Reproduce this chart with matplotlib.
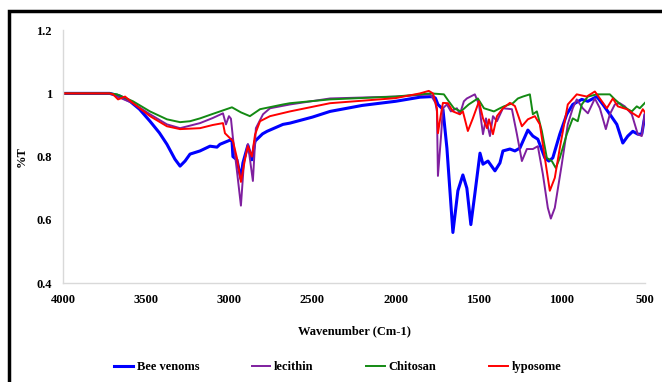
import matplotlib
matplotlib.use('Agg')
import matplotlib.pyplot as plt
from matplotlib.patches import Rectangle

plt.rcParams['font.family'] = ['Liberation Serif', 'DejaVu Serif']
plt.rcParams['font.weight'] = 'bold'

# ==================== 数据 ====================
bee_wn = [4000, 3850, 3720, 3660, 3597, 3540, 3477, 3420, 3375, 3327, 3296, 3266, 3236,
          3176, 3116, 3074, 3056, 2996, 2984, 2978, 2954, 2930, 2918, 2888, 2864, 2845,
          2800, 2773, 2677, 2635, 2500, 2394, 2200, 2000, 1853, 1775, 1760, 1745, 1715,
          1691, 1655, 1625, 1595, 1571, 1547, 1523, 1492, 1474, 1444, 1402, 1372, 1354,
          1312, 1282, 1252, 1204, 1174, 1144, 1102, 1078, 1054, 1012, 970, 934, 880, 843,
          789, 753, 711, 669, 633, 603, 573, 543, 519, 500]
bee_t = [1.0, 1.0, 1.0, 0.992, 0.975, 0.95, 0.912, 0.875, 0.839, 0.792, 0.77, 0.786, 0.808,
         0.818, 0.833, 0.830, 0.839, 0.852, 0.855, 0.80, 0.79, 0.73, 0.78, 0.836, 0.79, 0.849,
         0.872, 0.88, 0.902, 0.906, 0.925, 0.943, 0.962, 0.975, 0.988, 0.99, 0.985, 0.965, 0.95,
         0.827, 0.56, 0.692, 0.742, 0.70, 0.585, 0.682, 0.811, 0.776, 0.786, 0.755, 0.78, 0.818,
         0.824, 0.818, 0.827, 0.884, 0.865, 0.855, 0.796, 0.786, 0.796, 0.871, 0.934, 0.965, 0.981, 0.975,
         0.99, 0.965, 0.934, 0.902, 0.843, 0.865, 0.88, 0.871, 0.871, 0.93]

lec_wn = [4000, 3720, 3675, 3579, 3477, 3375, 3296, 3176, 3100, 3038, 3020, 3002, 2990,
          2978, 2954, 2930, 2912, 2888, 2858, 2840, 2797, 2755, 2635, 2394, 2000, 1790,
          1760, 1751, 1745, 1727, 1715, 1691, 1667, 1631, 1613, 1589, 1571, 1523, 1498,
          1474, 1456, 1432, 1414, 1390, 1354, 1300, 1270, 1240, 1210, 1174, 1144, 1114,
          1084, 1066, 1042, 1000, 964, 934, 910, 874, 843, 801, 771, 735, 711, 681, 651,
          621, 579, 543, 519, 500]
lec_t = [1.0, 1.0, 0.99, 0.969, 0.934, 0.902, 0.89, 0.906, 0.922, 0.937, 0.902, 0.928, 0.92,
         0.859, 0.755, 0.645, 0.78, 0.84, 0.723, 0.89, 0.934, 0.953, 0.965, 0.984, 0.99, 0.997,
         0.97, 0.943, 0.739, 0.86, 0.953, 0.965, 0.943, 0.953, 0.934, 0.975, 0.984, 0.997, 0.965,
         0.871, 0.921, 0.865, 0.928, 0.912, 0.953, 0.95, 0.871, 0.786, 0.824, 0.824, 0.833, 0.745,
         0.638, 0.604, 0.638, 0.776, 0.902, 0.953, 0.981, 0.953, 0.937, 0.984, 0.953, 0.887, 0.934, 0.965, 0.969,
         0.959, 0.934, 0.871, 0.865, 0.94]

chi_wn = [4000, 3720, 3675, 3579, 3477, 3375, 3296, 3236, 3176, 3100, 2984, 2930, 2876,
          2815, 2677, 2635, 2394, 2000, 1787, 1709, 1680, 1649, 1607, 1560, 1505, 1468,
          1408, 1372, 1348, 1294, 1264, 1234, 1192, 1174, 1150, 1120, 1090, 1060, 1036,
          1012, 970, 934, 904, 880, 843, 789, 711, 681, 633, 579, 549, 531, 500]
chi_t = [1.0, 1.0, 0.997, 0.975, 0.943, 0.918, 0.909, 0.912, 0.921, 0.935, 0.956, 0.94, 0.928,
         0.95, 0.965, 0.969, 0.981, 0.99, 1.0, 0.997, 0.975, 0.953, 0.943, 0.965, 0.984, 0.953,
         0.943, 0.953, 0.959, 0.969, 0.984, 0.99, 0.997, 0.934, 0.943, 0.881, 0.796, 0.786, 0.764,
         0.796, 0.871, 0.921, 0.912, 0.965, 0.99, 0.997, 0.997, 0.981, 0.959, 0.943, 0.959, 0.953, 0.97]

lyp_wn = [4000, 3720, 3699, 3669, 3627, 3579, 3477, 3375, 3296, 3176, 3100, 3038, 3026,
          2978, 2954, 2930, 2906, 2888, 2864, 2845, 2815, 2755, 2635, 2394, 2000, 1853,
          1800, 1775, 1751, 1745, 1727, 1715, 1685, 1655, 1613, 1595, 1565, 1535, 1498,
          1474, 1450, 1438, 1414, 1390, 1354, 1312, 1282, 1240, 1204, 1162, 1132, 1102,
          1072, 1042, 1012, 964, 910, 850, 801, 759, 729, 693, 663, 609, 573, 537, 513, 500]
lyp_t = [1.0, 1.0, 0.997, 0.981, 0.99, 0.969, 0.928, 0.896, 0.887, 0.89, 0.90, 0.906, 0.874,
         0.849, 0.796, 0.72, 0.79, 0.833, 0.80, 0.87, 0.912, 0.928, 0.943, 0.969, 0.985, 1.0,
         1.008, 1.0, 0.953, 0.874, 0.934, 0.97, 0.969, 0.943, 0.934, 0.943, 0.881, 0.921, 0.975,
         0.921, 0.89, 0.918, 0.871, 0.928, 0.953, 0.97, 0.96, 0.896, 0.918, 0.928, 0.902, 0.796,
         0.692, 0.733, 0.827, 0.965, 0.997, 0.99, 1.006, 0.975, 0.953, 0.984, 0.959, 0.95, 0.937, 0.925, 0.95, 0.94]

x_ticks = [4000, 3500, 3000, 2500, 2000, 1500, 1000, 500]
y_ticks = [0.4, 0.6, 0.8, 1.0, 1.2]
y_tick_labels = ['0.4', '0.6', '0.8', '1', '1.2']

# ==================== 绘图 ====================
fig = plt.figure(figsize=(6.62, 3.82), dpi=100)
ax = fig.add_axes([0.0952, 0.259, 0.879, 0.662])

ax.plot(bee_wn, bee_t, color='#0000FF', lw=2.2, label='Bee venoms')
ax.plot(lec_wn, lec_t, color='#7F1F9F', lw=1.4, label='lecithin')
ax.plot(chi_wn, chi_t, color='#138A13', lw=1.4, label='Chitosan')
ax.plot(lyp_wn, lyp_t, color='#FF0000', lw=1.4, label='lyposome')

ax.set_xlim(4000, 500)
ax.set_ylim(0.4, 1.2)
ax.set_xticks(x_ticks)
ax.set_xticklabels([str(v) for v in x_ticks])
ax.set_yticks(y_ticks)
ax.set_yticklabels(y_tick_labels)
ax.tick_params(length=0, labelsize=9, pad=8)
for lab in ax.get_xticklabels() + ax.get_yticklabels():
    lab.set_fontweight('bold')

for s in ['top', 'right']:
    ax.spines[s].set_visible(False)
for s in ['left', 'bottom']:
    ax.spines[s].set_color('#D9D9D9')
    ax.spines[s].set_linewidth(1.0)

ax.set_xlabel('Wavenumber (Cm-1)', fontsize=9, fontweight='bold', labelpad=14)
fig.text(22 / 662, 1 - 157 / 382, '%T', rotation=90, fontsize=9, fontweight='bold',
         ha='center', va='center')

fig.legend(loc='center', bbox_to_anchor=(0.51, 1 - 367 / 382), ncol=4, frameon=False,
           fontsize=9, handlelength=1.5, handletextpad=0.3, columnspacing=4.2)

# 外框 (左边和上边可见)
fig.add_artist(Rectangle((9 / 662, -0.2), 1.2, 1.2 - 11 / 382, transform=fig.transFigure,
                         fill=False, edgecolor='black', lw=2.5, clip_on=False))

fig.savefig('out.png', dpi=100)
